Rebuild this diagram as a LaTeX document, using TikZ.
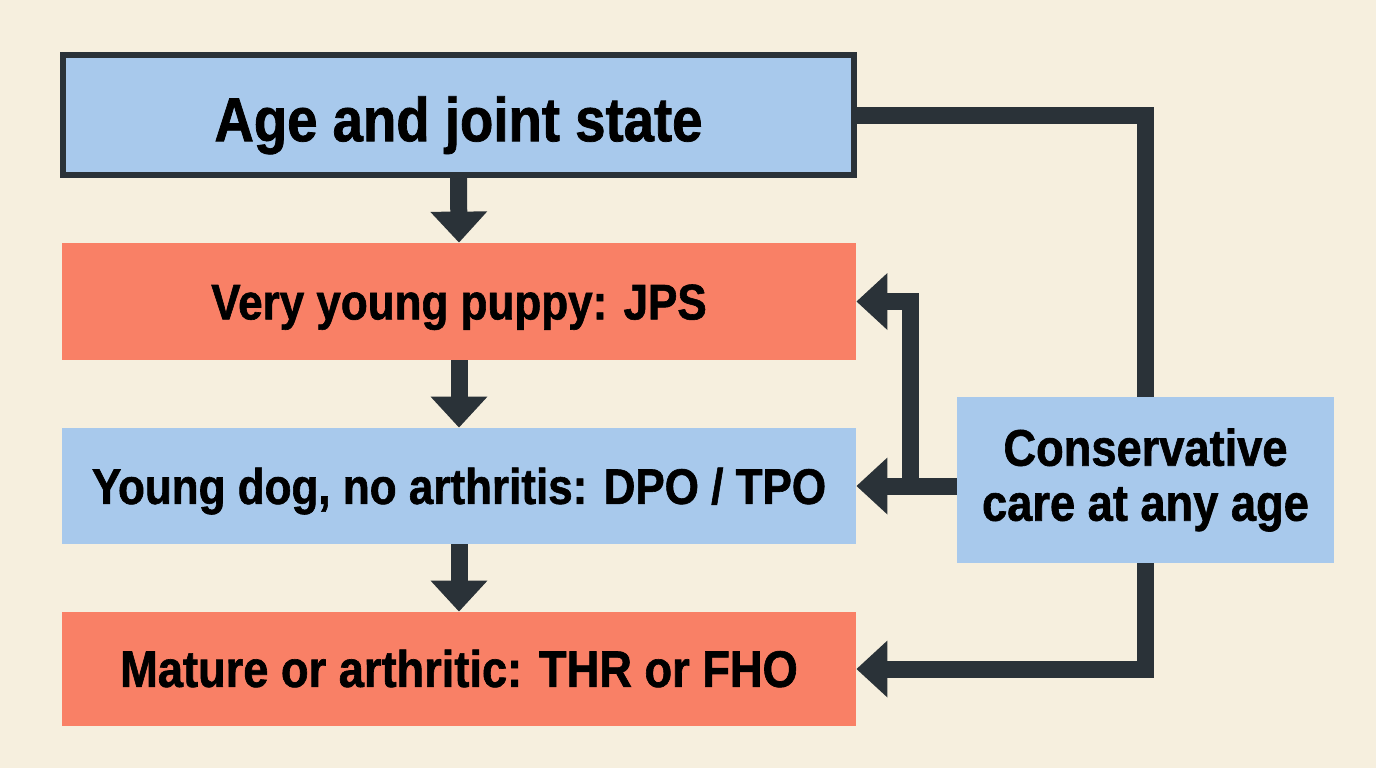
\documentclass[tikz,border=0pt]{standalone}
\usepackage{fontspec}
\setmainfont{Liberation Sans}[FakeStretch=0.88, BoldFeatures={FakeBold=1.2}]
\usetikzlibrary{arrows.meta}
\definecolor{bgc}{HTML}{F6EFDE}
\definecolor{boxblue}{HTML}{A8C9EC}
\definecolor{boxred}{HTML}{F98066}
\definecolor{ink}{HTML}{2A3238}
\tikzset{
  box/.style={inner sep=0pt, align=center, font=\bfseries\fontsize{25pt}{27.5pt}\selectfont, text=black},
  capcenter/.style={text height=17.9pt, text depth=0pt},
  bluebox/.style={box, fill=boxblue},
  redbox/.style={box, fill=boxred},
  conn/.style={draw=ink, line width=8.5pt, line join=miter},
  arr/.style={conn, -{Triangle[width=27.5pt,length=15.5pt]}},
}
\begin{document}
\begin{tikzpicture}[x=0.5pt,y=-0.5pt]
\fill[bgc] (0,0) rectangle (1376,768);
\useasboundingbox (0,0) rectangle (1376,768);

\node[bluebox, draw=ink, line width=3pt, minimum width=395.5pt, minimum height=60pt,
  font=\bfseries\fontsize{31pt}{34pt}\selectfont, text height=26.2pt, text depth=0pt] (top) at (458.5,115) {Age and joint state};
\node[redbox, capcenter, minimum width=397pt, minimum height=58.5pt] (red1) at (459,301.5) {Very young puppy: JPS};
\node[bluebox, capcenter, minimum width=397pt, minimum height=58pt] (blue2) at (459,486) {Young dog, no arthritis: DPO / TPO};
\node[redbox, capcenter, minimum width=397pt, minimum height=57pt,
  font=\bfseries\fontsize{25.7pt}{28pt}\selectfont] (red3) at (459,669) {Mature or arthritic: THR or FHO};
\node[bluebox, minimum width=188.5pt, minimum height=83pt,
  font=\bfseries\fontsize{25.7pt}{27.5pt}\selectfont] (cons) at (1145.5,480) {Conservative\\care at any age};

% down arrows
\draw[arr] (top.south) -- (red1.north);
\draw[arr] (red1.south) -- (blue2.north);
\draw[arr] (blue2.south) -- (red3.north);

% right side connectors
\draw[conn] (top.east) -| (cons.north);
\coordinate (j) at (910,486);
\draw[arr] (cons.west |- blue2.east) -- (blue2.east);
\draw[arr] (j) |- (red1.east);
\draw[arr] (cons.south) |- (red3.east);
\end{tikzpicture}
\end{document}
